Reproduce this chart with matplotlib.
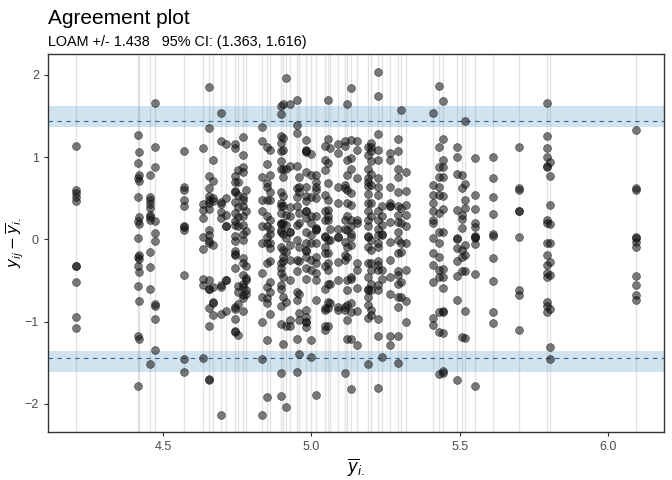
import numpy as np
import matplotlib
matplotlib.use("Agg")
import matplotlib.pyplot as plt

plt.rcParams["font.family"] = ["Liberation Sans", "DejaVu Sans"]
plt.rcParams["mathtext.fontset"] = "dejavusans"

# limits of agreement
loam = 1.438
ci_low, ci_high = 1.363, 1.616

# subject means (x) and deviations of each replicate from its subject mean (y)
subject_means = [
    4.208, 4.416, 4.421, 4.457, 4.474, 4.572, 4.636, 4.655, 4.668, 4.695,
    4.712, 4.744, 4.754, 4.770, 4.778, 4.834, 4.849, 4.860, 4.898, 4.905,
    4.916, 4.927, 4.950, 4.959, 4.980, 4.999, 5.017, 5.045, 5.056, 5.064,
    5.090, 5.113, 5.120, 5.132, 5.152, 5.190, 5.200, 5.225, 5.236, 5.264,
    5.290, 5.303, 5.320, 5.408, 5.430, 5.444, 5.491, 5.507, 5.518, 5.552,
    5.612, 5.700, 5.794, 5.804, 6.094,
]

deviations = [
    [1.13, 0.60, 0.56, 0.52, 0.46, -0.33, -0.33, -0.52, -0.94, -1.08],
    [1.265, 0.925, 0.75, 0.515, 0.22, 0.02, -0.21, -0.325, -0.57, -1.18, -1.785],
    [1.062, 0.78, 0.705, 0.27, 0.19, -0.195, -0.235, -0.40, -0.75, -1.21],
    [0.78, 0.515, 0.48, 0.43, 0.377, 0.29, 0.27, 0.24, -0.155, -0.337, -0.60, -1.52],
    [1.655, 1.12, 0.876, 0.22, 0.077, -0.025, -0.79, -0.81, -0.97, -1.35],
    [1.08, 0.64, 0.60, 0.474, 0.405, 0.158, 0.15, 0.11, -0.435, -1.45, -1.61],
    [1.107, 0.433, 0.353, 0.255, 0.03, -0.12, -0.483, -0.556, -1.44],
    [1.85, 1.35, 0.77, 0.62, 0.53, 0.48, 0.44, 0.365, 0.113, 0.052, -0.02,
     -0.05, -0.50, -0.60, -0.61, -0.83, -1.05, -1.70, -1.71],
    [0.965, 0.71, 0.50, 0.47, -0.073, -0.58, -0.76, -0.77, -0.925],
    [1.533, 1.196, 0.457, 0.43, 0.332, 0.26, -0.56, -0.58, -0.91, -2.14],
    [1.155, 0.506, 0.296, 0.166, 0.16, -0.49, -0.50, -0.87],
    [1.155, 1.107, 0.77, 0.70, 0.59, 0.58, 0.454, 0.324, 0.22, 0.17, 0.04,
     -0.024, -0.14, -0.19, -0.18, -0.35, -0.82, -0.845, -0.97, -1.12, -1.13],
    [0.84, 0.70, 0.535, 0.397, 0.27, 0.162, -0.565, -0.64, -0.79, -1.16],
    [1.25, 1.03, 0.88, 0.82, 0.52, 0.48, 0.40, 0.28, 0.18, 0.07, -0.01,
     -0.23, -0.29, -0.44, -0.54, -0.58, -0.68, -0.72, -0.87],
    [0.60, 0.35, 0.10, -0.32, -0.47, -0.50, -0.62, -0.66],
    [1.36, 1.19, 0.76, 0.48, 0.34, 0.16, -0.05, -0.41, -0.70, -1.01, -1.46, -2.14],
    [1.12, 0.91, 0.68, 0.64, 0.48, 0.28, 0.16, 0.03, -0.05, -0.29, -0.58,
     -0.72, -0.78, -1.22, -1.92],
    [1.09, 0.78, 0.58, 0.48, 0.24, 0.12, 0.07, -0.04, -0.11, -0.27, -0.52, -0.64, -0.91],
    [1.62, 1.52, 1.26, 1.17, 1.08, 0.95, 0.86, 0.58, 0.44, 0.40, 0.32, 0.20,
     0.19, 0.09, 0.11, -0.09, -0.29, -0.35, -0.41, -0.56, -0.60, -0.81, -1.03,
     -1.63, -1.91],
    [1.65, 1.23, 1.09, 0.86, 0.76, 0.53, 0.40, 0.20, 0.07, -0.13, -0.21,
     -0.27, -0.46, -0.70, -1.27],
    [1.96, 0.85, 0.29, 0.18, 0.02, -0.15, -0.76, -1.06, -2.04],
    [1.65, 0.89, 0.39, 0.28, 0.09, 0.09, -0.07, -0.25, -0.50, -0.98, -1.06],
    [1.69, 1.39, 1.29, 0.89, 0.62, 0.52, 0.40, 0.18, -0.01, -0.25, -0.39,
     -0.64, -0.74, -1.21, -1.61],
    [0.76, 0.64, 0.58, 0.32, 0.20, -0.09, -0.27, -0.66, -0.90, -0.98, -1.39],
    [1.21, 1.09, 1.06, 1.07, 0.82, 0.64, 0.53, 0.46, 0.34, 0.35, 0.26, 0.09,
     -0.05, -0.13, -0.14, -0.22, -0.35, -0.48, -0.86, -0.94, -1.01, -1.00, -1.07],
    [1.04, 0.78, 0.52, 0.28, 0.20, 0.05, -0.05, -0.25, -0.37, -1.22, -1.43],
    [0.78, 0.70, 0.64, 0.60, 0.50, 0.28, 0.14, 0.13, 0.11, -0.05, -0.21,
     -0.29, -0.41, -0.50, -0.74, -1.89],
    [1.14, 0.97, 0.84, 0.54, 0.34, 0.24, 0.04, 0.03, -0.09, -0.17, -0.33,
     -0.60, -0.84, -0.86, -1.06, -1.10],
    [1.69, 1.22, 0.93, 0.68, 0.48, 0.36, 0.28, 0.24, -0.01, -0.17, -0.29,
     -0.37, -0.54, -0.76, -0.84, -1.06],
    [1.11, 0.12, -0.01, -0.54, -0.78],
    [1.16, 1.05, 0.64, 0.44, 0.12, 0.03, 0.03, -0.28, -0.50, -0.82, -0.86],
    [1.20, 1.13, 0.66, 0.62, 0.24, 0.12, -0.03, -0.19, -0.25, -0.82, -0.86, -1.63],
    [1.65, 0.97, 0.78, 0.60, 0.44, 0.28, 0.11, -0.09, -0.21, -0.50, -0.62,
     -0.80, -0.98, -1.21],
    [1.84, 1.21, 0.99, 0.86, 0.56, 0.42, 0.24, 0.16, 0.07, 0.03, -0.07,
     -0.46, -0.48, -0.78, -0.88, -1.21, -1.82],
    [1.20, 1.09, 0.74, 0.24, 0.20, -0.29, -0.37, -0.59, -0.87, -1.28],
    [1.12, 1.03, 0.85, 0.74, 0.70, 0.65, 0.55, 0.44, 0.34, 0.24, 0.16, 0.04,
     0.03, -0.09, -0.29, -0.46, -0.60, -0.62, -0.70, -0.80, -0.96, -1.52],
    [1.17, 1.12, 1.07, 0.95, 0.80, 0.66, 0.44, 0.28, -0.01, -0.13, -0.29,
     -0.37, -0.54, -0.62, -0.86, -0.92],
    [2.03, 1.74, 1.28, 1.09, 0.97, 0.74, 0.64, 0.54, 0.34, 0.24, 0.12, 0.05,
     -0.05, -0.09, -0.27, -0.31, -0.37, -0.56, -0.62, -0.97, -1.18, -1.81],
    [0.40, 0.28, 0.18, 0.07, 0.05, -0.37, -0.48, -1.43],
    [1.05, 0.97, 0.64, 0.44, 0.40, 0.41, 0.21, -0.03, -0.25, -0.46, -0.66, -1.18, -1.28],
    [1.22, 1.07, 0.86, 0.76, 0.58, 0.40, 0.30, 0.21, 0.09, -0.01, -0.17,
     -0.39, -0.43, -0.54, -0.70, -0.82, -1.18, -1.50],
    [1.57, 0.38, 0.20, -0.05, -0.16, -0.52, -0.70],
    [0.82, 0.59, 0.42, 0.30, 0.16, -0.05, -0.37, -0.75, -1.00],
    [1.54, 0.66, 0.54, 0.44, 0.34, 0.24, 0.20, 0.01, -0.17, -0.31, -0.52, -0.96, -1.04],
    [1.87, 1.12, 0.88, 0.76, 0.64, 0.54, 0.32, 0.09, -0.05, -0.21, -0.37,
     -0.46, -0.88, -1.13, -1.64],
    [1.68, 1.217, 0.965, 0.88, 0.76, 0.527, 0.365, 0.09, -0.365, -0.455,
     -0.596, -0.876, -0.88, -1.136, -1.605, -1.63],
    [1.12, 0.998, 0.80, 0.356, 0.012, 0.0, -0.11, -0.27, -0.45, -0.74, -1.715],
    [0.78, 0.62, 0.296, 0.243, 0.134, -0.13, -0.21, -0.39, -1.185],
    [1.435, 0.67, 0.48, 0.377, -0.07, -0.19, -0.39, -0.876, -1.205],
    [0.985, 0.535, 0.365, 0.195, 0.154, 0.04, 0.012, 0.03, -0.06, -0.426, -1.79],
    [0.998, 0.742, 0.511, 0.304, 0.064, 0.04, -0.23, -0.51, -0.888, -1.02],
    [1.12, 0.628, 0.60, 0.348, 0.34, 0.024, -0.617, -0.674, -1.107],
    [1.655, 1.253, 1.107, 1.005, 0.89, 0.875, 0.235, 0.195, -0.05, -0.195,
     -0.31, -0.41, -0.46, -0.76, -0.81, -0.89],
    [0.94, 0.766, 0.414, 0.186, -0.05, -0.276, -0.44, -0.845, -1.314, -1.456],
    [1.326, 0.62, 0.60, 0.024, 0.02, -0.03, -0.09, -0.447, -0.56, -0.68, -0.74],
]

xs = np.concatenate([[m] * len(d) for m, d in zip(subject_means, deviations)])
ys = np.concatenate(deviations)

fig = plt.figure(figsize=(6.72, 4.8), dpi=100)
ax = fig.add_axes([48 / 672, 48 / 480, 616 / 672, 378 / 480])

for m in subject_means:
    ax.axvline(m, color="#a0a0a0", alpha=0.28, lw=1.0, zorder=1)

for s in (1, -1):
    ax.axhspan(s * ci_low, s * ci_high, color="#1f77b4", alpha=0.2, lw=0, zorder=2)
    ax.axhline(s * loam, color="#2a6596", lw=0.8, ls=(0, (4, 4)), zorder=3)

ax.scatter(xs, ys, s=32, c="#111111", alpha=0.55, edgecolors="#000000",
           linewidths=0.5, zorder=4)

ax.set_xlim(4.113, 6.187)
ax.set_ylim(-2.344, 2.254)
ax.set_xticks([4.5, 5.0, 5.5, 6.0])
ax.set_xticklabels(["4.5", "5.0", "5.5", "6.0"])
ax.set_yticks([-2, -1, 0, 1, 2])
ax.tick_params(colors="#333333", labelcolor="#4d4d4d", labelsize=9, length=3)
for sp in ax.spines.values():
    sp.set_color("#333333")
    sp.set_linewidth(1.0)

ax.set_xlabel(r"$\overline{y}_{i.}$", fontsize=12, labelpad=2)
ax.set_ylabel(r"$y_{ij} - \overline{y}_{i.}$", fontsize=11)
ax.yaxis.set_label_coords(-0.035, 0.5)

fig.text(48 / 672, 1 - 24 / 480, "Agreement plot", fontsize=15, va="baseline")
fig.text(48 / 672, 1 - 46 / 480, "LOAM +/- 1.438   95% CI: (1.363, 1.616)",
         fontsize=10.4, va="baseline")

fig.savefig("out.png", dpi=100)
